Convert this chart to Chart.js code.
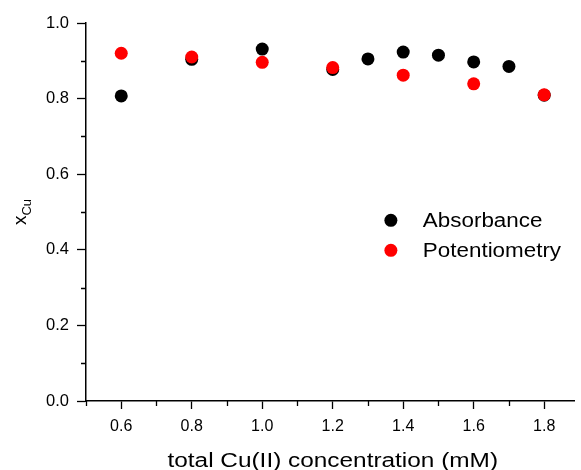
<!DOCTYPE html>
<html>
<head>
<meta charset="utf-8">
<script src="https://cdn.jsdelivr.net/npm/chart.js@4/dist/chart.umd.min.js"></script>
<style>
  html, body { margin: 0; padding: 0; background: #fff; }
  #wrap { width: 581px; height: 470px; }
</style>
</head>
<body>
<div id="wrap"><canvas id="c" width="581" height="470"></canvas></div>
<script>
// Mole fraction of Cu vs. total Cu(II) concentration, two methods
const absConc = [0.6, 0.8, 1.0, 1.2, 1.3, 1.4, 1.5, 1.6, 1.7, 1.8];
const absXCu  = [0.807, 0.904, 0.931, 0.877, 0.905, 0.923, 0.915, 0.897, 0.885, 0.809];
const potConc = [0.6, 0.8, 1.0, 1.2, 1.4, 1.6, 1.8];
const potXCu  = [0.920, 0.910, 0.896, 0.882, 0.862, 0.839, 0.810];
const seriesNames = ['Absorbance', 'Potentiometry'];
const xAxisTitle = 'total Cu(II) concentration (mM)';
const xMajorTicks = [0.6, 0.8, 1.0, 1.2, 1.4, 1.6, 1.8];
const xMinorTicks = [0.5, 0.7, 0.9, 1.1, 1.3, 1.5, 1.7];
const yMajorTicks = [0.0, 0.2, 0.4, 0.6, 0.8, 1.0];
const yMinorTicks = [0.1, 0.3, 0.5, 0.7, 0.9];

const FONT = "'Liberation Sans', Arial, sans-serif";

// draw text stretched horizontally by sx, anchored at its horizontal centre or left edge
function wideText(ctx, text, x, y, sx, align) {
  ctx.save();
  ctx.translate(x, y);
  ctx.scale(sx, 1);
  ctx.textAlign = align;
  ctx.fillText(text, 0, 0);
  ctx.restore();
}

// minor tick marks, axis titles and the in-plot legend
const decorations = {
  id: 'decorations',
  afterDraw(chart) {
    const ctx = chart.ctx;
    const xs = chart.scales.x, ys = chart.scales.y;
    const area = chart.chartArea;
    ctx.save();
    ctx.strokeStyle = '#000';
    ctx.lineWidth = 1.3;
    ctx.beginPath();
    xMinorTicks.forEach(v => {
      const px = Math.round(xs.getPixelForValue(v)) + 0.5;
      ctx.moveTo(px, area.bottom);
      ctx.lineTo(px, area.bottom + 5);
    });
    yMinorTicks.forEach(v => {
      const py = Math.round(ys.getPixelForValue(v)) + 0.5;
      ctx.moveTo(area.left, py);
      ctx.lineTo(area.left - 5, py);
    });
    ctx.stroke();
    ctx.restore();

    // x title
    ctx.save();
    ctx.fillStyle = '#000';
    ctx.font = '19.5px ' + FONT;
    ctx.textBaseline = 'alphabetic';
    wideText(ctx, xAxisTitle, (area.left + area.right) / 2 + 2.5, 467, 1.25, 'center');
    ctx.restore();

    // y title: x with subscript Cu
    ctx.save();
    ctx.fillStyle = '#000';
    ctx.translate(26, (area.top + area.bottom) / 2);
    ctx.rotate(-Math.PI / 2);
    ctx.textBaseline = 'alphabetic';
    ctx.textAlign = 'left';
    ctx.font = '19px ' + FONT;
    const w1 = ctx.measureText('x').width;
    const sub = 'Cu';
    ctx.font = '13px ' + FONT;
    const w2 = ctx.measureText(sub).width;
    const start = -(w1 + w2) / 2;
    ctx.font = '19px ' + FONT;
    ctx.fillText('x', start, 0);
    ctx.font = '13px ' + FONT;
    ctx.fillText(sub, start + w1, 5);
    ctx.restore();

    // legend
    ctx.save();
    ctx.font = '20px ' + FONT;
    ctx.textBaseline = 'middle';
    const lx = xs.getPixelForValue(1.365), ly0 = ys.getPixelForValue(0.478), dy = 30;
    [0, 1].forEach(i => {
      const ds = chart.data.datasets[i];
      const y = ly0 + i * dy;
      ctx.fillStyle = ds.backgroundColor;
      ctx.beginPath();
      ctx.arc(lx, y, 6.5, 0, Math.PI * 2);
      ctx.fill();
      ctx.fillStyle = '#000';
      wideText(ctx, ds.label, lx + 32, y + 1, 1.12, 'left');
    });
    ctx.restore();
  }
};

new Chart(document.getElementById('c'), {
  type: 'scatter',
  data: {
    datasets: [
      {
        label: seriesNames[0],
        data: absConc.map((c, i) => ({ x: c, y: absXCu[i] })),
        backgroundColor: '#000000',
        borderWidth: 0,
        pointRadius: 6.5,
        pointHoverRadius: 6.5,
        order: 2
      },
      {
        label: seriesNames[1],
        data: potConc.map((c, i) => ({ x: c, y: potXCu[i] })),
        backgroundColor: '#ff0000',
        borderWidth: 0,
        pointRadius: 6.5,
        pointHoverRadius: 6.5,
        order: 1
      }
    ]
  },
  options: {
    responsive: false,
    animation: false,
    events: [],
    layout: { padding: { top: 23, right: 2, left: 0, bottom: 0 } },
    plugins: { legend: { display: false }, tooltip: { enabled: false } },
    scales: {
      x: {
        type: 'linear',
        min: 0.5,
        max: 1.886,
        afterBuildTicks: s => { s.ticks = xMajorTicks.map(v => ({ value: v })); },
        afterFit: s => { s.height = 69; },
        border: { display: true, color: '#000', width: 1.5 },
        grid: { display: true, drawOnChartArea: false, drawTicks: true, tickLength: 8, tickColor: '#000', tickWidth: 1.3 },
        ticks: {
          color: '#000',
          font: { family: FONT, size: 16 },
          padding: 8,
          maxRotation: 0,
          callback: v => Number(v).toFixed(1)
        }
      },
      y: {
        type: 'linear',
        min: 0,
        max: 1.0,
        afterBuildTicks: s => { s.ticks = yMajorTicks.map(v => ({ value: v })); },
        afterFit: s => { s.width = 86; },
        border: { display: true, color: '#000', width: 1.5 },
        grid: { display: true, drawOnChartArea: false, drawTicks: true, tickLength: 9, tickColor: '#000', tickWidth: 1.3 },
        ticks: {
          color: '#000',
          font: { family: FONT, size: 16.5 },
          padding: 8,
          callback: v => Number(v).toFixed(1)
        }
      }
    }
  },
  plugins: [decorations]
});
</script>
</body>
</html>
